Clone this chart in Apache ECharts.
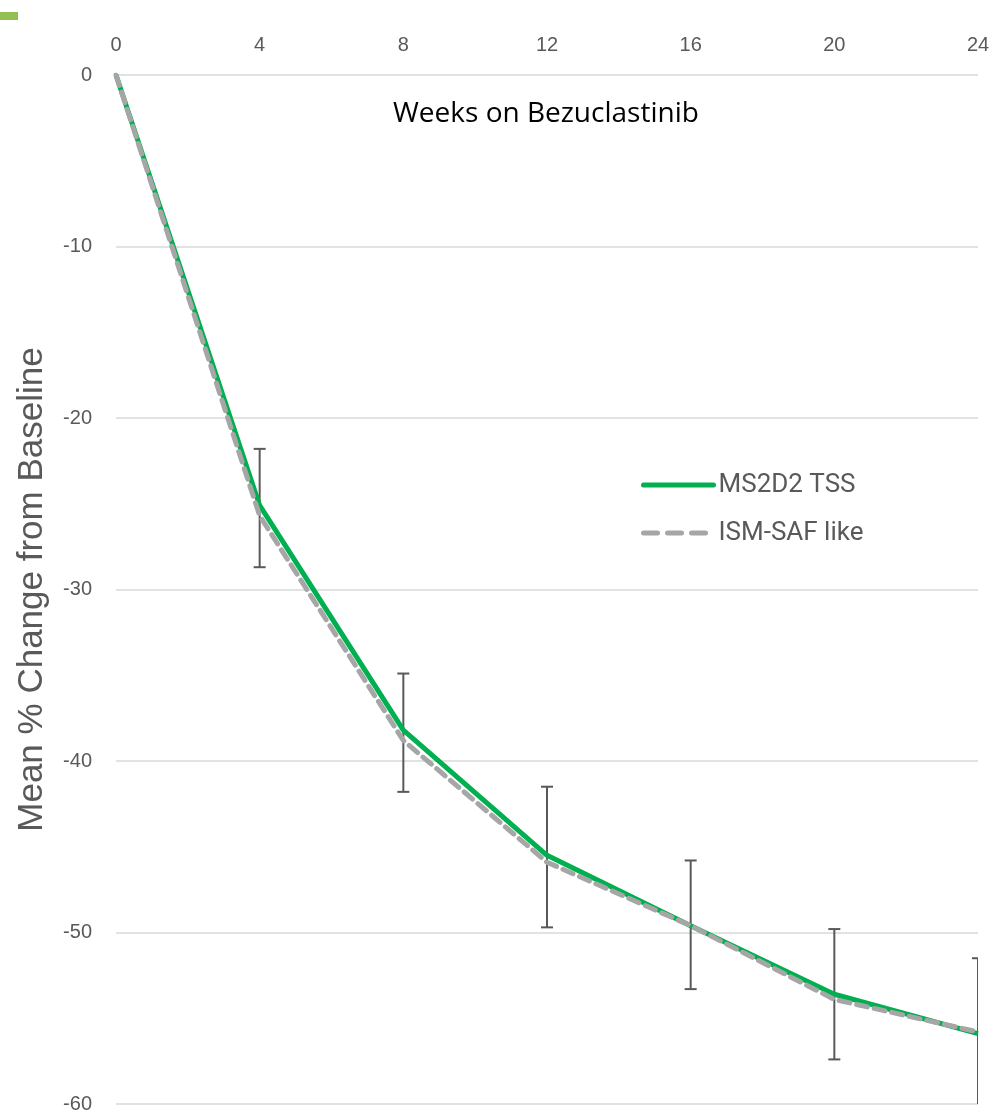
<!DOCTYPE html>
<html>
<head>
<meta charset="utf-8">
<script src="https://cdn.jsdelivr.net/npm/echarts@6/dist/echarts.min.js"></script>
<style>
html,body{margin:0;padding:0;background:#fff;}
#chart{width:994px;height:1114px;}
</style>
</head>
<body>
<div id="chart"></div>
<script>
const weeks = [0, 4, 8, 12, 16, 20, 24];
const xTicks = [0, 4, 8, 12, 16, 20, 24];
const yTicks = [0, -10, -20, -30, -40, -50, -60];
const ms2d2 = [0, -25.1, -38.2, -45.5, -49.6, -53.6, -55.9];
const ismSaf = [0, -25.7, -38.8, -45.9, -49.6, -53.9, -55.8];
const errHigh = [null, -21.8, -34.9, -41.5, -45.8, -49.8, -51.5];
const errLow = [null, -28.7, -41.8, -49.7, -53.3, -57.4, -60.3];

const chart = echarts.init(document.getElementById('chart'), null, {renderer: 'canvas'});
const errData = [];
weeks.forEach((w, i) => { if (errHigh[i] !== null) errData.push([w, errLow[i], errHigh[i]]); });

const option = {
  animation: false,
  backgroundColor: '#ffffff',
  grid: {left: 116, right: 16, top: 75, bottom: 10, containLabel: false},
  xAxis: {
    type: 'value', position: 'top', min: xTicks[0], max: xTicks[xTicks.length - 1], interval: 4,
    axisLine: {show: false}, axisTick: {show: false}, splitLine: {show: false},
    axisLabel: {color: '#595959', fontSize: 20, fontFamily: 'Liberation Sans', margin: 20}
  },
  yAxis: {
    type: 'value', min: yTicks[yTicks.length - 1], max: yTicks[0], interval: 10,
    axisLine: {show: false}, axisTick: {show: false},
    splitLine: {lineStyle: {color: '#d9d9d9', width: 1.5}},
    axisLabel: {color: '#595959', fontSize: 20, fontFamily: 'Liberation Sans', margin: 24},
    name: 'Mean % Change from Baseline', nameLocation: 'middle', nameGap: 66, nameRotate: 90,
    nameTextStyle: {color: '#595959', fontSize: 35, fontFamily: 'Liberation Sans'}
  },
  legend: {
    orient: 'vertical', left: 636, top: 467, itemWidth: 70, itemHeight: 14, itemGap: 22,
    textStyle: {color: '#595959', fontSize: 26, fontFamily: 'Roboto', padding: [0, 0, 0, 0]},
    itemStyle: {opacity: 0},
    lineStyle: {width: 5, cap: 'round'},
    data: [
      {name: 'MS2D2 TSS'},
      {name: 'ISM-SAF like', lineStyle: {width: 5, type: [14, 10], cap: 'round'}}
    ]
  },
  graphic: [
    {type: 'rect', left: 0, top: 12, shape: {width: 18, height: 8}, style: {fill: '#92c050'}},
    {type: 'text', left: 393, top: 100, z: 10,
     style: {text: 'Weeks on Bezuclastinib', fill: '#000', fontSize: 28, fontFamily: 'Open Sans'}}
  ],
  series: [
    {
      name: 'errors', type: 'custom', clip: true, z: 3,
      data: errData,
      renderItem: function (params, api) {
        const x = api.value(0);
        const lo = api.coord([x, api.value(1)]);
        const hi = api.coord([x, api.value(2)]);
        const hw = 6;
        const st = {stroke: '#595959', lineWidth: 2};
        return {type: 'group', children: [
          {type: 'line', shape: {x1: lo[0], y1: lo[1], x2: hi[0], y2: hi[1]}, style: st},
          {type: 'line', shape: {x1: hi[0] - hw, y1: hi[1], x2: hi[0] + hw, y2: hi[1]}, style: st},
          {type: 'line', shape: {x1: lo[0] - hw, y1: lo[1], x2: lo[0] + hw, y2: lo[1]}, style: st}
        ]};
      }
    },
    {
      name: 'MS2D2 TSS', type: 'line', z: 4, symbol: 'none', showSymbol: false,
      data: weeks.map((w, i) => [w, ms2d2[i]]),
      lineStyle: {color: '#00b050', width: 5}, itemStyle: {color: '#00b050'}
    },
    {
      name: 'ISM-SAF like', type: 'line', z: 5, symbol: 'none', showSymbol: false,
      data: weeks.map((w, i) => [w, ismSaf[i]]),
      lineStyle: {color: '#a6a6a6', width: 5, type: [11, 7], cap: 'round'}, itemStyle: {color: '#a6a6a6'}
    }
  ]
};
chart.setOption(option);
</script>
</body>
</html>
